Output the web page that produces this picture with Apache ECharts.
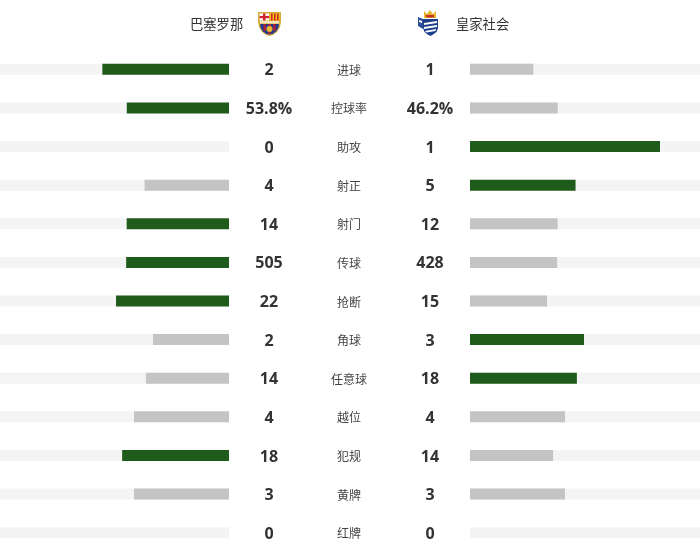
<!DOCTYPE html>
<html><head><meta charset="utf-8">
<script src="https://cdn.jsdelivr.net/npm/echarts@6/dist/echarts.min.js"></script>
<style>html,body{margin:0;padding:0;background:#fff}#main{width:700px;height:550px}</style>
</head><body><div id="main"></div>
<script>
const categories = ['进球','控球率','助攻','射正','射门','传球','抢断','角球','任意球','越位','犯规','黄牌','红牌'];
const homeValues = [2, 53.8, 0, 4, 14, 505, 22, 2, 14, 4, 18, 3, 0];
const awayValues = [1, 46.2, 1, 5, 12, 428, 15, 3, 18, 4, 14, 3, 0];
const valueSuffix = ['', '%', '', '', '', '', '', '', '', '', '', '', ''];
const teamNames = ['巴塞罗那', '皇家社会'];

const GREEN = '#1f5c1b', GREY = '#c4c4c4', TRACK = '#f4f4f4';
const share = (a, b) => (a + b) === 0 ? 0 : a / (a + b);
const homeData = homeValues.map((v, i) => ({
  value: share(v, awayValues[i]),
  itemStyle: { color: v > awayValues[i] ? GREEN : GREY }
}));
const awayData = awayValues.map((v, i) => ({
  value: share(v, homeValues[i]),
  itemStyle: { color: v > homeValues[i] ? GREEN : GREY }
}));

const poly = (pts, fill) => ({ type: 'polygon', shape: { points: pts }, style: { fill: fill } });
const rect = (x, y, w, h, fill) => ({ type: 'rect', shape: { x: x, y: y, width: w, height: h }, style: { fill: fill } });

const chart = echarts.init(document.getElementById('main'));
const numStyle = { fontSize: 16, fontWeight: 'bold', color: '#333', fontFamily: 'Open Sans, Noto Sans, sans-serif', align: 'center', padding: [3, 0, 0, 0] };
chart.setOption({
  animation: false,
  grid: [
    { left: 0, width: 229, top: 50, height: 502, outerBoundsMode: 'none' },
    { left: 470, width: 230, top: 50, height: 502, outerBoundsMode: 'none' }
  ],
  xAxis: [
    { gridIndex: 0, type: 'value', min: 0, max: 229 / 190, inverse: true, show: false },
    { gridIndex: 1, type: 'value', min: 0, max: 230 / 190, show: false }
  ],
  yAxis: [
    { gridIndex: 0, type: 'category', data: categories, inverse: true, position: 'right',
      axisLine: { show: false }, axisTick: { show: false }, splitLine: { show: false },
      axisLabel: {
        interval: 0, margin: 0, align: 'left',
        formatter: (val, idx) => `{a|${homeValues[idx]}${valueSuffix[idx]}}{b|${val}}{c|${awayValues[idx]}${valueSuffix[idx]}}`,
        rich: {
          a: Object.assign({ width: 80 }, numStyle),
          b: { width: 80, align: 'center', fontSize: 12, color: '#444', fontFamily: 'Noto Sans CJK SC, sans-serif', padding: [2, 0, 0, 0] },
          c: Object.assign({ width: 82 }, numStyle)
        }
      } },
    { gridIndex: 1, type: 'category', data: categories, inverse: true, show: false }
  ],
  series: [
    { type: 'bar', xAxisIndex: 0, yAxisIndex: 0, data: homeData, barWidth: 11,
      showBackground: true, backgroundStyle: { color: TRACK } },
    { type: 'bar', xAxisIndex: 1, yAxisIndex: 1, data: awayData, barWidth: 11,
      showBackground: true, backgroundStyle: { color: TRACK } }
  ],
  graphic: [
    { type: 'text', x: 190, y: 24, style: { text: teamNames[0], fontSize: 13.3, fill: '#333', verticalAlign: 'middle', textVerticalAlign: 'middle', fontFamily: 'Noto Sans CJK SC, sans-serif' } },
    { type: 'text', x: 456, y: 24, style: { text: teamNames[1], fontSize: 13.3, fill: '#333', verticalAlign: 'middle', textVerticalAlign: 'middle', fontFamily: 'Noto Sans CJK SC, sans-serif' } },
    { type: 'group', x: 258, y: 11, children: [
      poly([[0,1],[23,1],[23,11],[22,16],[19,21],[15,24],[11.5,25],[8,24],[4,21],[1,16],[0,11]], '#d8ac3c'),
      rect(1.5, 2.5, 9.5, 7, '#ffffff'),
      rect(5, 2.5, 2.5, 7, '#d2232a'),
      rect(1.5, 5, 9.5, 2.2, '#d2232a'),
      rect(12, 2.5, 9.5, 7, '#f5c518'),
      rect(13, 2.5, 1.6, 7, '#d2232a'),
      rect(16, 2.5, 1.6, 7, '#d2232a'),
      rect(19, 2.5, 1.6, 7, '#d2232a'),
      rect(2, 10, 19, 2.5, '#f2e6c0'),
      poly([[2,13],[21,13],[20.3,17],[18,20.5],[14.5,23],[11.5,23.5],[8.5,23],[5,20.5],[2.7,17]], '#1d3c8f'),
      rect(5.5, 13, 2.5, 7, '#b0203a'),
      rect(10.3, 13, 2.5, 10, '#b0203a'),
      rect(15.2, 13, 2.5, 7, '#b0203a'),
      { type: 'circle', shape: { cx: 11.5, cy: 18, r: 3 }, style: { fill: '#e8b830' } }
    ] },
    { type: 'group', x: 417, y: 9, children: [
      poly([[7,2],[10,5],[13,1],[16,5],[19,2],[19,9],[7,9]], '#e6b52a'),
      rect(9, 6, 8, 2.5, '#c8302c'),
      poly([[6,10],[21,10],[21,19],[19.5,23],[16,25.5],[13.5,27],[10.5,25.5],[7.5,23],[6,19]], '#1e3f8a'),
      poly([[7,14],[20,12],[20,14],[7,16]], '#ffffff'),
      poly([[7,18],[20,16],[20,18],[7,20]], '#ffffff'),
      poly([[8,22],[19,20],[18.5,22],[9.5,23.5]], '#ffffff'),
      poly([[1,8],[6,10],[6,20],[1,17]], '#2e4f9a'),
      poly([[2,11],[5,12],[5,14],[2,13]], '#ffffff')
    ] }
  ]
});
</script>
</body></html>
